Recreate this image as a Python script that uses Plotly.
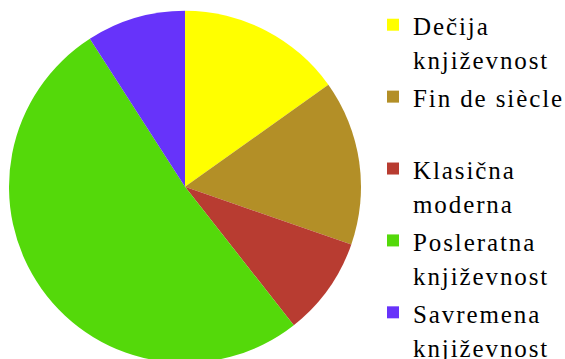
import plotly.graph_objects as go

labels = ["Dečija<br>književnost", "Fin de siècle<br> ", "Klasična<br>moderna",
          "Posleratna<br>književnost", "Savremena<br>književnost"]
values = [5, 5, 3, 17, 3]
colors = ["#FFFF00", "#B38F27", "#B83C31", "#54D90A", "#6733FA"]

span_style = "font-family:'Liberation Serif',serif;font-size:25px;letter-spacing:1.9px"
legend_labels = ["<br>".join(f'<span style="{span_style}">{part}</span>' for part in lab.split("<br>"))
                 for lab in labels]

W, H = 565, 363
fig = go.Figure(go.Pie(
    labels=legend_labels,
    values=values,
    sort=False,
    direction="clockwise",
    rotation=0,
    marker=dict(colors=colors, line=dict(width=0)),
    textinfo="none",
    hoverinfo="label+value",
    domain=dict(x=[9 / W, 361 / W], y=[0, 1 - 10.7 / H]),
))
fig.update_layout(
    width=W, height=H,
    margin=dict(l=0, r=0, t=0, b=0, autoexpand=False),
    paper_bgcolor="white",
    showlegend=True,
    legend=dict(
        x=373 / W, xanchor="left", y=1 - 1 / H, yanchor="top",
        font=dict(family="Liberation Serif, serif", size=26.5, color="#000000"),
        valign="top",
        maxheight=2000,
        bgcolor="rgba(0,0,0,0)",
    ),
)
fig.write_html("out.html", post_script="document.documentElement.style.overflow='hidden';document.body.style.overflow='hidden';")
